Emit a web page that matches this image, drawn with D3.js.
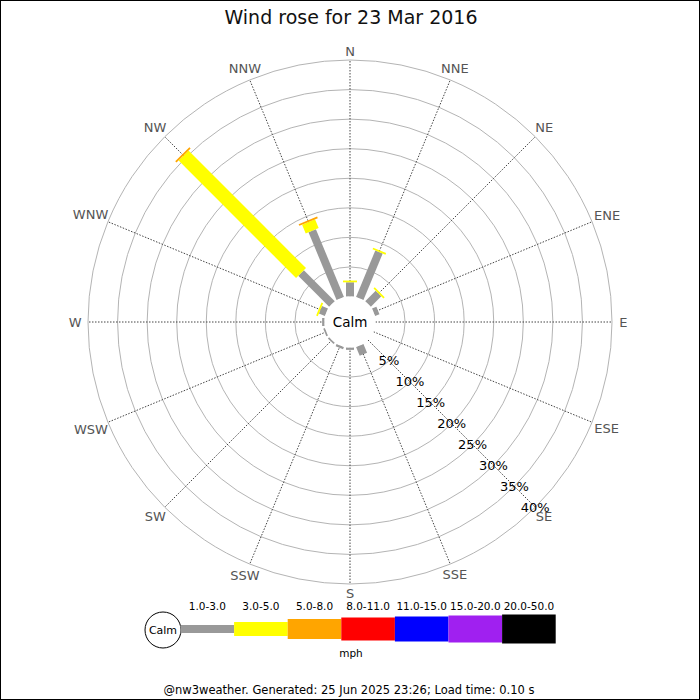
<!DOCTYPE html>
<html>
<head>
<meta charset="utf-8">
<script src="https://cdn.jsdelivr.net/npm/d3@7"></script>
<style>
html,body{margin:0;padding:0;background:#fff;}
svg{display:block;font-family:"DejaVu Sans",sans-serif;}
</style>
</head>
<body>
<svg id="chart" width="700" height="700"></svg>
<script>
// ---- data ----
const directions = ["N","NNE","NE","ENE","E","ESE","SE","SSE","S","SSW","SW","WSW","W","WNW","NW","NNW"];
const rangeLabels = ["1.0-3.0","3.0-5.0","5.0-8.0","8.0-11.0","11.0-15.0","15.0-20.0","20.0-50.0"];
const rangeColors = ["#999999","#ffff00","#ffa500","#ff0000","#0000ff","#a020f0","#000000"];
const pct_1_3  = [2.4, 8.5, 2.5, 0.8, 0, 0, 0, 1.6, 0.4, 0.4, 0.3, 0.3, 0.4, 1.1, 7.4, 12.4];
const pct_3_5  = [0.3, 0.3, 0.3, 0,   0, 0, 0, 0,   0,   0,   0,   0,   0,   0.3, 28.1, 1.6];
const pct_5_8  = [0,   0,   0,   0,   0, 0, 0, 0,   0,   0,   0,   0,   0,   0,   0.3, 0.3];
const series = [pct_1_3, pct_3_5, pct_5_8];
const gridTicks = [5,10,15,20,25,30,35,40];
const title = "Wind rose for 23 Mar 2016";
const footer = "@nw3weather. Generated: 25 Jun 2025 23:26; Load time: 0.10 s";
const unitLabel = "mph";

// ---- layout ----
const svg = d3.select("#chart");
const W = 700, H = 700;
const cx = 350, cy = 322;
const calmR = 25.5, outerR = 262;
const barWidths = [8, 14, 20, 23, 25, 27, 29];
const r = d3.scaleLinear().domain([0, 40]).range([calmR, outerR]);
const ang = d => directions.indexOf(d) * 22.5;

svg.append("rect").attr("x",0.5).attr("y",0.5).attr("width",W-1).attr("height",H-1)
  .attr("fill","#fff").attr("stroke","#000").attr("stroke-width",1);

svg.append("text").attr("x",351).attr("y",24).attr("text-anchor","middle")
  .attr("font-size",19).attr("fill","#111").text(title);

const g = svg.append("g").attr("transform",`translate(${cx},${cy})`);

// grid circles
g.selectAll("circle.grid").data(gridTicks).join("circle")
  .attr("class","grid").attr("r",d=>r(d)).attr("fill","none")
  .attr("stroke","#b4b4b4").attr("stroke-width",1);

// spokes
g.selectAll("line.spoke").data(directions).join("line")
  .attr("class","spoke")
  .attr("x1",d=>calmR*Math.sin(ang(d)*Math.PI/180))
  .attr("y1",d=>-calmR*Math.cos(ang(d)*Math.PI/180))
  .attr("x2",d=>outerR*Math.sin(ang(d)*Math.PI/180))
  .attr("y2",d=>-outerR*Math.cos(ang(d)*Math.PI/180))
  .attr("stroke","#444").attr("stroke-width",1).attr("stroke-dasharray","1.5,1.5");

// bars
directions.forEach((dir,i)=>{
  let cum = 0;
  const bg = g.append("g").attr("transform",`rotate(${ang(dir)})`);
  series.forEach((s,k)=>{
    const v = s[i];
    if (v > 0) {
      const r0 = r(cum), r1 = r(cum+v);
      bg.append("rect").attr("x",-barWidths[k]/2).attr("y",-r1)
        .attr("width",barWidths[k]).attr("height",r1-r0)
        .attr("fill",rangeColors[k]);
    }
    cum += v;
  });
});

// calm circle
g.append("circle").attr("r",calmR).attr("fill","#fff");
g.append("text").attr("x",0).attr("y",0).attr("text-anchor","middle")
  .attr("dominant-baseline","central").attr("font-size",13.5).attr("fill","#000").text("Calm");

// percentage labels along SE
g.selectAll("text.pct").data(gridTicks).join("text")
  .attr("class","pct")
  .attr("x",d=>r(d)*Math.SQRT1_2).attr("y",d=>r(d)*Math.SQRT1_2)
  .attr("text-anchor","middle").attr("dominant-baseline","central")
  .attr("font-size",13).attr("fill","#000").text(d=>d+"%");

// compass labels
g.selectAll("text.dir").data(directions).join("text")
  .attr("class","dir")
  .attr("text-anchor","middle").attr("dominant-baseline","central")
  .attr("font-size",13).attr("fill","#555").text(d=>d)
  .each(function(d){
    const a = ang(d)*Math.PI/180;
    const w = this.getComputedTextLength();
    const rr = 271 + 0.3*w*Math.abs(Math.sin(a));
    d3.select(this).attr("x", rr*Math.sin(a)).attr("y", -rr*Math.cos(a));
  });

// legend
const lg = svg.append("g");
const legX0 = 180.5, segW = 53.6, legY = 629;
const lx = d3.scaleBand().domain(rangeLabels).range([legX0, legX0 + segW*rangeLabels.length]).padding(0);
lg.append("circle").attr("cx",163).attr("cy",630).attr("r",18)
  .attr("fill","#fff").attr("stroke","#000").attr("stroke-width",1);
lg.append("text").attr("x",163).attr("y",630).attr("text-anchor","middle")
  .attr("dominant-baseline","central").attr("font-size",11).text("Calm");
lg.selectAll("rect").data(rangeLabels).join("rect")
  .attr("x",d=>lx(d)).attr("width",lx.bandwidth())
  .attr("y",(d,i)=>legY-barWidths[i]/2).attr("height",(d,i)=>barWidths[i])
  .attr("fill",(d,i)=>rangeColors[i]);
lg.selectAll("text.lab").data(rangeLabels).join("text")
  .attr("class","lab").attr("x",d=>lx(d)+lx.bandwidth()/2).attr("y",610)
  .attr("text-anchor","middle").attr("font-size",10.5).attr("fill","#000").text(d=>d);
lg.append("text").attr("x",351).attr("y",657).attr("text-anchor","middle")
  .attr("font-size",10.5).attr("fill","#000").text(unitLabel);

svg.append("text").attr("x",349).attr("y",694).attr("text-anchor","middle")
  .attr("font-size",11.5).attr("fill","#000").text(footer);
</script>
</body>
</html>
